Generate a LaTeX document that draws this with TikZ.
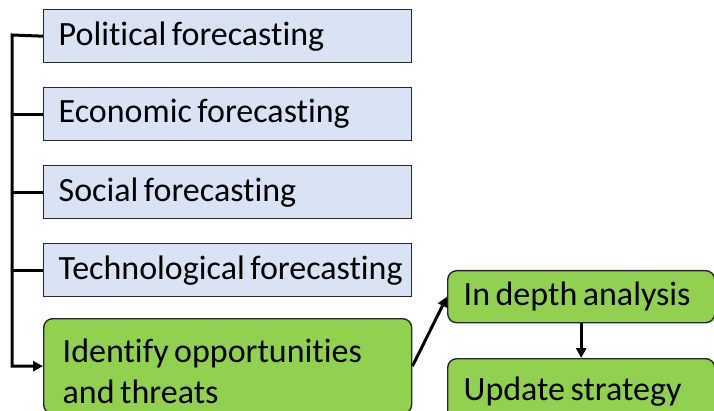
\documentclass[tikz,border=0pt]{standalone}
\usepackage{fontspec}
\setmainfont{Carlito}[Ligatures=NoCommon]
\usetikzlibrary{arrows.meta}
\tikzset{>={Stealth[length=10pt,width=10pt,inset=0pt]}}

\definecolor{boxblue}{RGB}{218,227,243}
\definecolor{boxgreen}{RGB}{146,208,80}
\definecolor{edge}{RGB}{40,40,40}

\newcommand{\boxfont}{\fontsize{34}{41}\selectfont}
\newcommand{\tightspace}{\spaceskip=5.5pt\relax}

\tikzset{
    forecast/.style={draw=edge,line width=1.4pt,fill=boxblue,anchor=north west,
        minimum width=368pt,minimum height=53pt,text width=338pt,inner xsep=15pt,
        align=left,font=\boxfont,execute at begin node=\tightspace},
    action/.style={draw=edge,line width=1.4pt,fill=boxgreen,anchor=north west,
        rounded corners=9pt,inner xsep=16pt,align=left,
        font=\boxfont,execute at begin node=\tightspace},
    link/.style={line width=3pt,black,line join=miter}
}

\begin{document}
\begin{tikzpicture}[x=1pt,y=-1pt]
    \useasboundingbox (0,0) rectangle (714,411);
    \node[forecast] (pol) at (43,9) {\mbox{Political forecasting}};
    \node[forecast] (eco) at (43,87) {\mbox{Economic forecasting}};
    \node[forecast] (soc) at (43,165) {\mbox{Social forecasting}};
    \node[forecast] (tech) at (43,243) {\mbox{Technological forecasting}};
    \node[action,minimum width=368pt,minimum height=95pt,text width=330pt,inner xsep=19pt] (ident) at (43,318)
        {\rule{0pt}{33pt}Identify opportunities\\and threats};
    \node[action,minimum width=267pt,minimum height=52pt,text width=235pt] (depth) at (447,270) {In depth analysis};
    \node[action,minimum width=267pt,minimum height=66pt,text width=235pt] (update) at (447,358) {Update strategy};
    % bracket on the left
    \coordinate (rail) at (12,35);
    \draw[link,->] (pol.west) -- (rail) |- (ident.west);
    \foreach \n in {eco,soc,tech}
        \draw[link] (\n.west) -- (\n.west -| rail);
    \draw[link,->] (ident.east) -- (depth.west);
    \draw[link,->] (depth.south) -- (update.north);
\end{tikzpicture}
\end{document}
